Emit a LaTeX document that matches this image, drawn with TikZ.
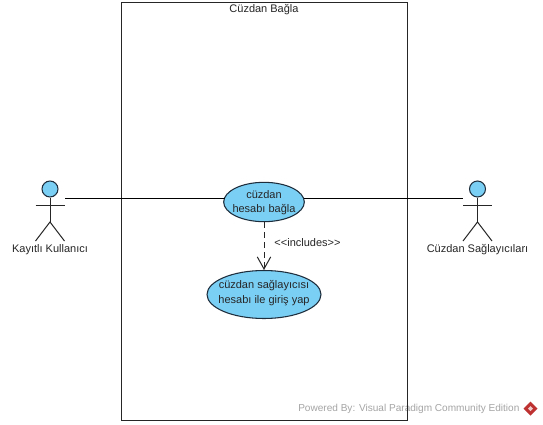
\documentclass[tikz,border=0pt]{standalone}
\usepackage{fontspec}
\setmainfont{Liberation Sans}
\usetikzlibrary{arrows.meta,shapes.geometric}
\definecolor{ucfill}{RGB}{122,207,245}
\definecolor{ucline}{RGB}{30,45,60}
\definecolor{wm}{RGB}{165,165,165}
\definecolor{wmred}{RGB}{190,50,50}
\tikzset{
  x=0.75pt,y=-0.75pt,
  lbl/.style={font=\fontsize{8.25pt}{11pt}\selectfont,text=black!85,inner sep=0pt,align=center},
  usecase/.style={ellipse,draw=ucline,fill=ucfill,line width=0.8pt,inner sep=0pt},
  head/.style={circle,draw=ucline,fill=ucfill,line width=0.8pt,minimum size=12pt,inner sep=0pt},
  limb/.style={draw=black!85,line width=0.75pt},
  assoc/.style={draw=black,line width=0.75pt},
  incl/.style={draw=black!85,line width=0.75pt,dash pattern=on 4.5pt off 3pt,-{Straight Barb[length=9pt,width=10pt,line width=0.75pt]}},
}
\newcommand{\stick}[2]{%
  \node[head] (#2head) at (#1,189) {};
  \coordinate (#2neck) at (#1,205);
  \coordinate (#2armL) at (#1-14.5,205);
  \coordinate (#2armR) at (#1+14.5,205);
  \coordinate (#2hip) at (#1,222);
  \coordinate (#2legL) at (#1-14.5,241);
  \coordinate (#2legR) at (#1+14.5,241);
  \draw[limb] (#2head) -- (#2hip);
  \draw[limb] (#2armL) -- (#2armR);
  \draw[limb] (#2legL) -- (#2hip) -- (#2legR);
}
\begin{document}
\begin{tikzpicture}
\useasboundingbox[fill=white] (0,0) rectangle (543,425);
% watermark
\node[font=\fontsize{7.55pt}{10pt}\selectfont,text=wm,inner sep=0pt,anchor=west] (mark) at (298,409) {Powered By: Visual Paradigm Community Edition};
\fill[wmred] (530.5,401.5) -- (537.5,408.5) -- (530.5,415.5) -- (523.5,408.5) -- cycle;
\fill[white!75!wmred] (530.5,406) -- (533,408.5) -- (530.5,411) -- (528,408.5) -- cycle;
% system
\node[draw=black!85,line width=0.75pt,minimum width=214.5pt,minimum height=313.5pt,inner sep=0pt,anchor=north west] (sys) at (120.5,2) {};
\node[lbl] (title) at (264,10) {Cüzdan Bağla};
% actors
\stick{50}{a}
\stick{477.5}{b}
\node[lbl] (alabel) at (50,249.5) {Kayıtlı Kullanıcı};
\node[lbl] (blabel) at (477.5,249.5) {Cüzdan Sağlayıcıları};
% use cases
\node[usecase,minimum width=60.5pt,minimum height=29.5pt] (u1) at (264,202) {};
\node[lbl] (u1text) at (264,202.5) {cüzdan\\hesabı bağla};
\node[usecase,minimum width=85.5pt,minimum height=36pt] (u2) at (264,294.5) {};
\node[lbl] (u2text) at (264,293) {cüzdan sağlayıcısı\\hesabı ile giriş yap};
% connectors
\coordinate (aend) at (65,198.5);
\coordinate (bend) at (463,198.5);
\coordinate (uL) at (224.5,198.5);
\coordinate (uR) at (303.5,198.5);
\draw[assoc] (aend) -- (uL);
\draw[assoc] (uR) -- (bend);
\draw[incl] (u1) -- (u2);
\node[lbl] (inc) at (307.5,243) {<{}<includes>{}>};
\end{tikzpicture}
\end{document}
